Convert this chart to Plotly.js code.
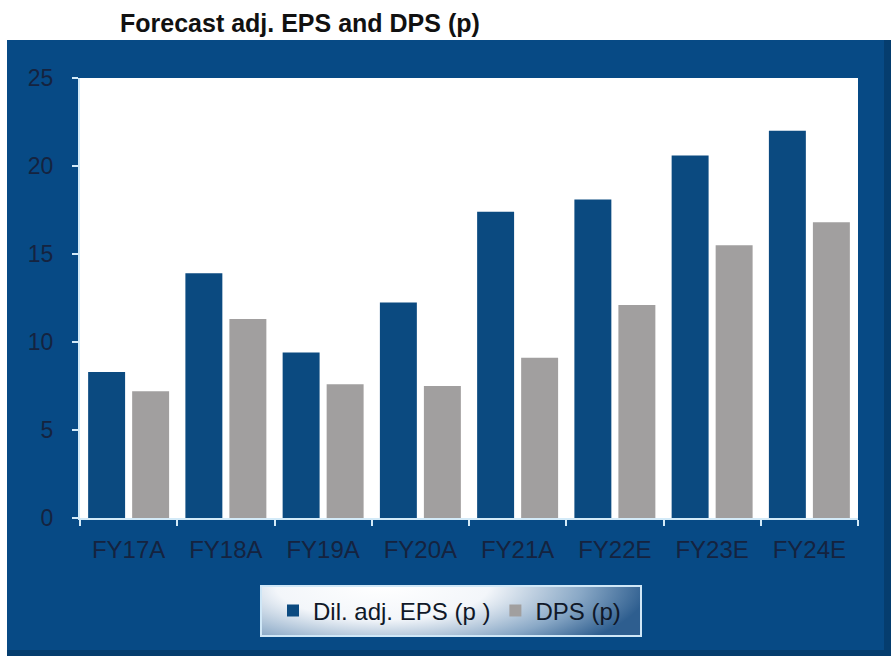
<!DOCTYPE html>
<html>
<head>
<meta charset="utf-8">
<script src="https://cdn.plot.ly/plotly-3.0.1.min.js"></script>
<style>
  html, body { margin: 0; padding: 0; background: #ffffff; }
  #chart { width: 891px; height: 656px; }
</style>
</head>
<body>
<div id="chart"></div>
<script>
// Fiscal years and forecast per-share figures (pence)
const years = ["FY17A", "FY18A", "FY19A", "FY20A", "FY21A", "FY22E", "FY23E", "FY24E"];
const dilAdjEps = [8.3, 13.9, 9.4, 12.25, 17.4, 18.1, 20.6, 22.0];
const dps = [7.2, 11.3, 7.6, 7.5, 9.1, 12.1, 15.5, 16.8];
const yTicks = [0, 5, 10, 15, 20, 25];

const W = 891, H = 656;
const M = { l: 80, r: 33, t: 78, b: 138 };
const plotW = W - M.l - M.r, plotH = H - M.t - M.b;
// pixel -> paper helpers for the framing decorations
const px = x => (x - M.l) / plotW;
const py = y => (H - M.b - y) / plotH;

const panelBlue = "#074a85";
const labelInk = "#15233f";
const axisLight = "#d3eaf8";

// Soft gradient fill for the legend box
const legendSvg =
  '<svg xmlns="http://www.w3.org/2000/svg" width="380" height="52" viewBox="0 0 380 52" preserveAspectRatio="none">' +
  '<defs><radialGradient id="g" cx="0.32" cy="0.0" r="0.7" gradientTransform="translate(0.32 0) scale(1 2.4) translate(-0.32 0)">' +
  '<stop offset="0" stop-color="#ffffff"/><stop offset="0.4" stop-color="#f3f6fa"/>' +
  '<stop offset="0.75" stop-color="#89a8c6"/><stop offset="1" stop-color="#2e5e8f"/>' +
  '</radialGradient></defs><rect width="380" height="52" fill="url(#g)"/></svg>';
const legendBg = "data:image/svg+xml;base64," + btoa(legendSvg);

const traces = [
  {
    type: "bar", name: "Dil. adj. EPS (p )", x: years, y: dilAdjEps,
    marker: { color: "#0b4a80", line: { width: 0 } }
  },
  {
    type: "bar", name: "DPS (p)", x: years, y: dps,
    marker: { color: "#a19f9f", line: { width: 0 } }
  }
];

const layout = {
  width: W, height: H,
  margin: M,
  paper_bgcolor: panelBlue,
  plot_bgcolor: "#ffffff",
  barmode: "group",
  bargap: 0.095,
  bargroupgap: 0.16,
  font: { family: "Liberation Sans, Arial, sans-serif", color: labelInk },
  title: {
    text: "<b>Forecast adj. EPS and DPS (p)</b>",
    font: { size: 25, color: "#111111", family: "Liberation Sans, Arial, sans-serif" },
    xref: "container", yref: "container",
    x: 120 / W, xanchor: "left",
    y: 1 - 23 / H, yanchor: "middle"
  },
  xaxis: {
    type: "category",
    tickson: "boundaries",
    ticks: "outside", ticklen: 6, tickwidth: 2, tickcolor: axisLight,
    showline: true, linecolor: axisLight, linewidth: 2,
    showgrid: false, zeroline: false,
    tickfont: { size: 24, color: labelInk },
    ticklabelstandoff: 9,
    fixedrange: true
  },
  yaxis: {
    range: [0, 25],
    tickvals: yTicks,
    ticks: "outside", ticklen: 6, tickwidth: 2, tickcolor: axisLight,
    showline: true, linecolor: axisLight, linewidth: 2,
    showgrid: false, zeroline: false,
    tickfont: { size: 23, color: labelInk },
    ticklabelstandoff: 14,
    fixedrange: true
  },
  showlegend: true,
  legend: {
    orientation: "h",
    x: px(273), xanchor: "left",
    y: py(611), yanchor: "middle",
    bgcolor: "rgba(0,0,0,0)",
    borderwidth: 0,
    font: { size: 24, color: "#101828" },
    itemclick: false, itemdoubleclick: false
  },
  shapes: [
    // white strip holding the title, and thin white margin at the left
    { type: "rect", xref: "paper", yref: "paper", layer: "below",
      x0: px(0), x1: px(W), y0: py(40), y1: py(0),
      fillcolor: "#ffffff", line: { width: 0 } },
    { type: "rect", xref: "paper", yref: "paper", layer: "below",
      x0: px(0), x1: px(7), y0: py(H), y1: py(0),
      fillcolor: "#ffffff", line: { width: 0 } },
    // darker rim along the right and bottom of the panel
    { type: "rect", xref: "paper", yref: "paper", layer: "below",
      x0: px(884), x1: px(W), y0: py(H), y1: py(40),
      fillcolor: "#053d6e", line: { width: 0 } },
    { type: "rect", xref: "paper", yref: "paper", layer: "below",
      x0: px(7), x1: px(W), y0: py(H), y1: py(650),
      fillcolor: "#053d6e", line: { width: 0 } },
    // legend frame
    { type: "rect", xref: "paper", yref: "paper", layer: "above",
      x0: px(261), x1: px(641), y0: py(636), y1: py(586),
      fillcolor: "rgba(0,0,0,0)", line: { width: 2, color: "#cfe7f7" } }
  ],
  images: [
    { source: legendBg, xref: "paper", yref: "paper", layer: "below",
      x: px(261), y: py(586), sizex: px(641) - px(261), sizey: py(586) - py(636),
      xanchor: "left", yanchor: "top", sizing: "stretch" }
  ]
};

Plotly.newPlot("chart", traces, layout, { displayModeBar: false, staticPlot: true });
</script>
</body>
</html>
